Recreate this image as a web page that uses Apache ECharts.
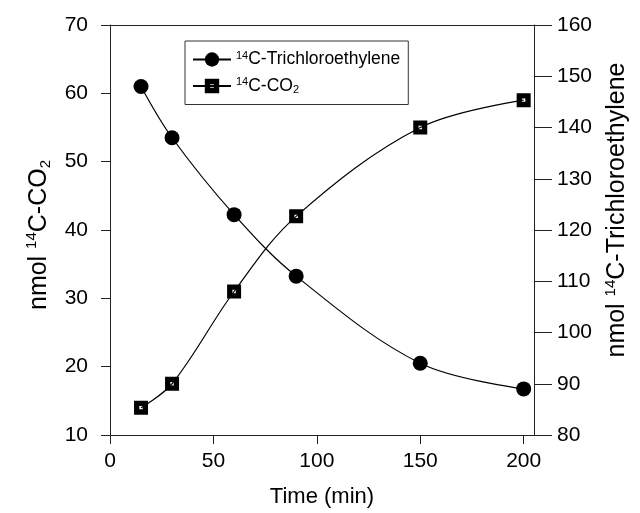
<!DOCTYPE html>
<html>
<head>
<meta charset="utf-8">
<script src="https://cdn.jsdelivr.net/npm/echarts@6/dist/echarts.min.js"></script>
<style>
  html, body { margin: 0; padding: 0; background: #fff; }
  #chart { width: 640px; height: 513px; }
</style>
</head>
<body>
<div id="chart"></div>
<script>
// sampling times (min)
var times = [15, 30, 60, 90, 150, 200];
// nmol 14C-CO2 (left axis)
var co2 = [14, 17.5, 31, 42, 55, 59];
// nmol 14C-TCE (right axis)
var tce = [148, 138, 123, 111, 94, 89];
var xTicks = [0, 50, 100, 150, 200];

function pairs(xs, ys) {
  return xs.map(function (x, i) { return [x, ys[i]]; });
}

var FONT = 'Liberation Sans, Arial, sans-serif';
var AXIS = '#222';
// black square with a white dot in the middle (inner square wound the other way)
var SQUARE = 'path://M0,0 L14,0 L14,14 L0,14 Z M5.3,5.3 L5.3,8.7 L8.7,8.7 L8.7,5.3 Z';

var chart = echarts.init(document.getElementById('chart'));

var option = {
  animation: false,
  backgroundColor: '#fff',
  textStyle: { fontFamily: FONT, color: '#000' },
  grid: { left: 110, right: 106, top: 25, bottom: 77, containLabel: false },
  legend: {
    orient: 'vertical',
    left: 185,
    top: 41,
    padding: [9, 8, 9, 7],
    itemGap: 8,
    itemWidth: 38,
    itemHeight: 18,
    borderColor: '#333',
    borderWidth: 1,
    borderRadius: 0,
    data: ['tce', 'co2'],
    formatter: function (n) {
      return n === 'tce' ? '{sup|14}{t|C-Trichloroethylene}' : '{sup|14}{t|C-CO}{sub|2}';
    },
    textStyle: {
      fontFamily: FONT,
      rich: {
        t: { fontSize: 17.5, fontFamily: FONT, color: '#000' },
        sup: { fontSize: 11, fontFamily: FONT, color: '#000', verticalAlign: 'top', padding: [0, 0, 8, 0] },
        sub: { fontSize: 11, fontFamily: FONT, color: '#000', verticalAlign: 'bottom', padding: [8, 0, 0, 0] }
      }
    }
  },
  xAxis: [{
    type: 'value',
    min: 0,
    max: 205,
    interval: 50,
    name: 'Time (min)',
    nameLocation: 'middle',
    nameGap: 51,
    nameTextStyle: { fontSize: 22, fontFamily: FONT, color: '#000' },
    axisLine: { show: true, onZero: false, lineStyle: { color: AXIS, width: 1 } },
    axisTick: { show: true, inside: false, length: 9, customValues: xTicks, lineStyle: { color: AXIS } },
    axisLabel: { fontSize: 21, color: '#000', margin: 16, customValues: xTicks },
    splitLine: { show: false }
  }, {
    type: 'value',
    position: 'top',
    min: 0,
    max: 205,
    axisLine: { show: true, onZero: false, lineStyle: { color: AXIS, width: 1 } },
    axisTick: { show: false },
    axisLabel: { show: false },
    splitLine: { show: false }
  }],
  yAxis: [{
    type: 'value',
    position: 'left',
    min: 10,
    max: 70,
    interval: 10,
    name: '{t|nmol }{sup|14}{t|C-CO}{sub|2}',
    nameLocation: 'middle',
    nameRotate: 90,
    nameGap: 52,
    nameTextStyle: {
      padding: [0, 10, 0, 0],
      rich: {
        t: { fontSize: 25, fontFamily: FONT, color: '#000' },
        sup: { fontSize: 15, fontFamily: FONT, color: '#000', verticalAlign: 'top', padding: [0, 0, 14, 0] },
        sub: { fontSize: 15, fontFamily: FONT, color: '#000', verticalAlign: 'bottom', padding: [14, 0, 0, 0] }
      }
    },
    axisLine: { show: true, onZero: false, lineStyle: { color: AXIS, width: 1 } },
    axisTick: { show: true, inside: false, length: 9, lineStyle: { color: AXIS } },
    axisLabel: { fontSize: 21, color: '#000', margin: 22 },
    splitLine: { show: false }
  }, {
    type: 'value',
    position: 'right',
    min: 80,
    max: 160,
    interval: 10,
    name: '{t|nmol }{sup|14}{t|C-Trichloroethylene}',
    nameLocation: 'middle',
    nameRotate: 90,
    nameGap: 62,
    nameTextStyle: {
      padding: [0, 0, 0, 40],
      rich: {
        t: { fontSize: 25, fontFamily: FONT, color: '#000' },
        sup: { fontSize: 15, fontFamily: FONT, color: '#000', verticalAlign: 'top', padding: [0, 0, 14, 0] }
      }
    },
    axisLine: { show: true, onZero: false, lineStyle: { color: AXIS, width: 1 } },
    axisTick: { show: true, inside: false, length: 18, lineStyle: { color: AXIS } },
    axisLabel: { fontSize: 21, color: '#000', margin: 23 },
    splitLine: { show: false }
  }],
  series: [{
    name: 'tce',
    type: 'line',
    xAxisIndex: 0,
    yAxisIndex: 1,
    smooth: 0.35,
    symbol: 'circle',
    symbolSize: 15,
    showAllSymbol: true,
    lineStyle: { color: '#000', width: 1.2 },
    itemStyle: { color: '#000', borderWidth: 0 },
    data: pairs(times, tce),
    z: 3
  }, {
    name: 'co2',
    type: 'line',
    xAxisIndex: 0,
    yAxisIndex: 0,
    smooth: 0.35,
    symbol: SQUARE,
    symbolSize: 14,
    showAllSymbol: true,
    lineStyle: { color: '#000', width: 1.2 },
    itemStyle: { color: '#000', borderWidth: 0 },
    data: pairs(times, co2),
    z: 3
  }]
};

chart.setOption(option);
</script>
</body>
</html>
